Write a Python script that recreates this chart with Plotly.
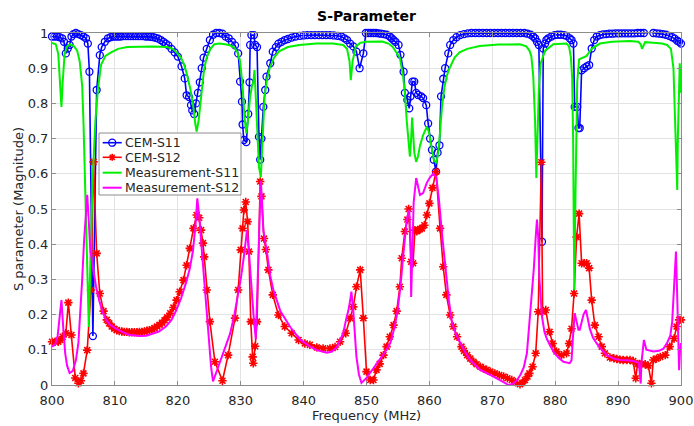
import plotly.graph_objects as go

# ---------------- data ----------------
cem_s11_freq = [800.0, 800.4, 800.8, 801.2, 801.6, 801.9, 802.2, 802.5, 802.8, 803.1, 803.4, 803.8,
                804.2, 804.6, 805.0, 805.4, 805.7, 805.95, 806.5, 807.1, 807.6, 807.9, 808.4, 808.9,
                809.3, 809.7, 810.1, 810.5, 810.9, 811.3, 811.7, 812.1, 812.5, 812.9, 813.3, 813.7,
                814.1, 814.5, 814.9, 815.3, 815.7, 816.1, 816.5, 816.9, 817.3, 817.7, 818.1, 818.5,
                819.0, 819.5, 820.0, 820.6, 821.1, 821.4, 821.8, 822.1, 822.3, 822.6, 822.9, 823.2,
                823.5, 823.8, 824.1, 824.6, 825.1, 825.6, 826.1, 826.6, 827.1, 827.6, 828.1, 828.6,
                829.1, 829.6, 829.9, 830.2, 830.3, 830.5, 830.9, 831.2, 831.4, 831.5, 831.7, 832.1,
                832.3, 832.6, 832.9, 833.1, 833.3, 833.6, 833.9, 834.1, 834.7, 835.1, 835.6, 836.0,
                836.5, 837.0, 837.5, 838.1, 838.7, 839.4, 840.0, 840.6, 841.2, 841.8, 842.4, 843.0,
                843.6, 844.2, 844.8, 845.4, 846.0, 846.5, 846.9, 847.4, 847.9, 848.4, 848.9, 849.5,
                849.9, 850.3, 850.7, 851.1, 851.5, 851.9, 852.3, 852.7, 853.2, 853.7, 854.0, 854.3,
                854.6, 855.1, 855.4, 855.9, 856.1, 856.5, 856.8, 857.0, 857.3, 857.6, 857.9, 858.2,
                858.7, 859.0, 859.5, 859.8, 860.1, 860.4, 860.7, 861.05, 861.3, 861.6, 861.85, 862.2,
                862.5, 863.0, 863.3, 863.8, 864.3, 864.9, 865.5, 866.1, 866.7, 867.3, 867.9, 868.5,
                869.1, 869.7, 870.3, 870.9, 871.5, 872.1, 872.7, 873.3, 873.9, 874.5, 875.1, 875.6,
                876.1, 876.5, 876.8, 877.1, 877.4, 877.9, 878.1, 878.4, 878.6, 878.9, 879.4, 879.9,
                880.4, 880.9, 881.4, 881.8, 882.3, 882.6, 882.9, 883.1, 883.5, 883.7, 883.9, 884.2,
                884.6, 885.0, 885.4, 885.8, 886.2, 886.6, 887.1, 887.6, 888.1, 888.6, 889.1, 889.6,
                890.1, 890.6, 891.1, 891.6, 892.1, 892.6, 893.1, 893.6, 894.1, 894.6, 895.1, 895.6,
                896.1, 896.6, 897.1, 897.6, 898.1, 898.6, 899.0, 899.4, 899.7, 900.0]
cem_s11 = [0.99, 0.99, 0.99, 0.988, 0.985, 0.975, 0.942, 0.956, 0.966, 0.99, 0.997, 1.0,
           0.997, 0.994, 0.99, 0.985, 0.97, 0.89, 0.139, 0.838, 0.937, 0.96, 0.975, 0.985,
           0.988, 0.99, 0.99, 0.99, 0.99, 0.991, 0.991, 0.991, 0.991, 0.991, 0.991, 0.991,
           0.991, 0.991, 0.99, 0.99, 0.989, 0.988, 0.986, 0.984, 0.98, 0.975, 0.97, 0.965,
           0.955, 0.945, 0.933, 0.905, 0.871, 0.823, 0.818, 0.795, 0.78, 0.77, 0.8, 0.83,
           0.86, 0.9, 0.93, 0.955, 0.98, 0.995, 1.0, 1.0, 0.998, 0.99, 0.985, 0.975,
           0.965, 0.942, 0.862, 0.805, 0.74, 0.696, 0.69, 0.77, 0.86, 0.966, 0.994, 0.994,
           0.966, 0.96, 0.705, 0.64, 0.7, 0.79, 0.838, 0.876, 0.914, 0.947, 0.96, 0.97,
           0.975, 0.98, 0.983, 0.987, 0.99, 0.992, 0.993, 0.994, 0.994, 0.994, 0.994, 0.994,
           0.994, 0.994, 0.993, 0.992, 0.99, 0.985, 0.98, 0.97, 0.962, 0.947, 0.9, 0.942,
           1.0, 1.0, 1.0, 1.0, 1.0, 0.999, 0.998, 0.997, 0.995, 0.99, 0.985, 0.98,
           0.975, 0.966, 0.938, 0.89, 0.83, 0.81, 0.786, 0.82, 0.862, 0.862, 0.83, 0.824,
           0.82, 0.815, 0.795, 0.743, 0.7, 0.668, 0.64, 0.606, 0.66, 0.681, 0.82, 0.87,
           0.9, 0.942, 0.966, 0.98, 0.988, 0.994, 0.997, 0.999, 1.0, 1.0, 1.0, 1.0,
           1.0, 1.0, 1.0, 1.0, 1.0, 1.0, 1.0, 1.0, 1.0, 1.0, 1.0, 0.998,
           0.995, 0.99, 0.985, 0.975, 0.966, 0.407, 0.956, 0.97, 0.98, 0.985, 0.99, 0.994,
           0.995, 0.995, 0.994, 0.992, 0.985, 0.98, 0.97, 0.79, 0.79, 0.73, 0.73, 0.894,
           0.9, 0.905, 0.909, 0.956, 0.98, 0.99, 0.994, 0.996, 0.997, 0.998, 0.998, 0.999,
           0.999, 0.999, 0.999, 0.999, 0.999, 0.999, 1.0, 1.0, 1.0, 1.001, 1.003, 1.0,
           0.999, 0.998, 0.997, 0.995, 0.992, 0.988, 0.984, 0.978, 0.975, 0.97]

cem_s12_freq = [800.0, 800.5, 801.0, 801.3, 801.7, 802.2, 802.6, 803.1, 803.7, 804.2, 804.6, 805.0,
                805.6, 806.2, 806.6, 807.1, 807.6, 808.2, 808.7, 809.1, 809.5, 809.9, 810.3, 810.7,
                811.1, 811.5, 811.9, 812.3, 812.7, 813.1, 813.5, 813.9, 814.3, 814.7, 815.1, 815.5,
                815.9, 816.3, 816.7, 817.1, 817.5, 817.9, 818.3, 818.8, 819.3, 819.8, 820.3, 820.9,
                821.4, 821.9, 822.5, 823.0, 823.4, 823.7, 824.0, 824.2, 824.6, 825.1, 825.9, 827.1,
                828.0, 829.1, 829.6, 830.0, 830.3, 830.5, 830.8, 831.1, 831.3, 831.6, 831.9, 832.0,
                832.3, 832.6, 833.1, 833.3, 833.7, 834.0, 834.4, 835.1, 836.0, 837.0, 838.1, 839.2,
                840.2, 841.0, 842.1, 843.1, 844.2, 845.0, 845.8, 846.7, 847.4, 847.9, 848.4, 849.0,
                849.5, 850.0, 850.6, 851.1, 851.6, 852.1, 852.7, 853.2, 853.7, 854.3, 854.8, 855.3,
                855.6, 856.1, 856.5, 856.7, 857.1, 857.4, 857.7, 858.0, 858.2, 858.5, 858.8, 859.2,
                859.6, 860.0, 860.5, 861.05, 861.7, 862.2, 862.7, 863.3, 863.8, 864.4, 865.1, 865.5,
                866.0, 866.5, 867.0, 867.5, 868.1, 868.6, 869.1, 869.7, 870.4, 871.1, 871.8, 872.4,
                873.1, 873.7, 874.4, 874.8, 875.2, 875.6, 875.9, 876.4, 876.9, 877.3, 877.8, 878.0,
                878.5, 879.1, 879.6, 880.2, 881.0, 881.8, 882.2, 882.6, 883.0, 883.4, 883.8, 884.2,
                884.6, 885.0, 885.4, 885.8, 886.3, 886.9, 887.4, 887.9, 888.7, 889.3, 889.8, 890.3,
                890.8, 891.4, 891.9, 892.4, 892.8, 893.1, 893.4, 893.7, 894.3, 894.8, 895.3, 895.6,
                896.1, 896.7, 897.5, 898.2, 898.9, 899.3, 899.7, 900.0]
cem_s12 = [0.123, 0.123, 0.123, 0.128, 0.137, 0.147, 0.234, 0.142, 0.02, 0.005, 0.012, 0.033,
           0.099, 0.27, 0.634, 0.374, 0.26, 0.21, 0.185, 0.175, 0.166, 0.16, 0.156, 0.153,
           0.152, 0.151, 0.151, 0.15, 0.15, 0.15, 0.15, 0.151, 0.151, 0.152, 0.154, 0.156,
           0.158, 0.162, 0.166, 0.171, 0.177, 0.184, 0.192, 0.204, 0.22, 0.241, 0.265, 0.298,
           0.34, 0.388, 0.445, 0.483, 0.475, 0.44, 0.403, 0.364, 0.27, 0.18, 0.066, 0.012,
           0.085, 0.19, 0.27, 0.384, 0.445, 0.497, 0.52, 0.464, 0.379, 0.18, 0.08, 0.062,
           0.11, 0.18, 0.578, 0.536, 0.416, 0.385, 0.327, 0.256, 0.199, 0.166, 0.147, 0.128,
           0.118, 0.114, 0.107, 0.104, 0.104, 0.108, 0.123, 0.147, 0.19, 0.222, 0.279, 0.327,
           0.19, 0.038, 0.014, 0.014, 0.043, 0.06, 0.085, 0.109, 0.137, 0.17, 0.21, 0.279,
           0.36, 0.436, 0.47, 0.5, 0.35, 0.346, 0.44, 0.437, 0.44, 0.443, 0.445, 0.454,
           0.483, 0.516, 0.56, 0.606, 0.445, 0.336, 0.256, 0.199, 0.166, 0.137, 0.109, 0.097,
           0.085, 0.075, 0.066, 0.059, 0.052, 0.047, 0.043, 0.038, 0.033, 0.028, 0.024, 0.019,
           0.014, 0.008, 0.002, 0.006, 0.014, 0.024, 0.033, 0.052, 0.09, 0.208, 0.633, 0.208,
           0.213, 0.151, 0.118, 0.095, 0.085, 0.09, 0.118, 0.16, 0.26, 0.42, 0.487, 0.346,
           0.346, 0.346, 0.332, 0.241, 0.17, 0.137, 0.109, 0.09, 0.078, 0.076, 0.074, 0.072,
           0.071, 0.071, 0.071, 0.068, 0.019, 0.06, 0.06, 0.059, 0.059, 0.055, 0.005, 0.071,
           0.075, 0.08, 0.085, 0.109, 0.132, 0.166, 0.185, 0.185]

meas_s11_freq = [800.0, 800.6, 801.0, 801.3, 801.5, 801.7, 802.0, 802.4, 802.9, 803.5, 804.0, 804.4,
                 804.8, 805.0, 805.3, 805.6, 805.85, 806.1, 806.5, 806.9, 807.3, 807.8, 808.5, 809.4,
                 810.5, 812.0, 814.0, 816.0, 818.3, 819.2, 819.8, 820.5, 821.0, 821.4, 822.0, 822.4,
                 822.8, 823.0, 823.3, 823.7, 824.2, 824.6, 825.2, 825.8, 826.6, 827.5, 828.3, 829.0,
                 829.5, 829.9, 830.3, 830.6, 830.9, 831.2, 831.5, 831.8, 832.0, 832.2, 832.4, 832.6,
                 832.9, 833.2, 833.5, 833.8, 834.2, 834.6, 835.3, 836.1, 837.5, 839.3, 842.0, 844.6,
                 846.3, 846.9, 847.3, 847.5, 847.8, 848.3, 849.0, 849.9, 852.5, 853.5, 854.2, 854.8,
                 855.3, 855.8, 856.1, 856.4, 856.7, 856.9, 857.1, 857.25, 857.4, 857.6, 857.9, 858.2,
                 858.5, 859.0, 859.6, 859.9, 860.3, 860.7, 861.1, 861.4, 861.7, 862.0, 862.4, 862.8,
                 863.2, 864.0, 864.8, 866.0, 868.0, 871.0, 874.4, 875.4, 875.9, 876.2, 876.5, 876.8,
                 877.0, 877.2, 877.4, 877.7, 878.4, 879.7, 881.8, 882.2, 882.5, 882.7, 882.85, 882.95,
                 883.05, 883.15, 883.3, 883.5, 883.8, 884.4, 885.0, 885.8, 887.1, 889.0, 891.9, 893.2,
                 893.6, 893.8, 894.0, 894.3, 895.6, 897.0, 897.8, 898.4, 898.8, 899.1, 899.3, 899.4,
                 899.5, 899.65, 899.8, 900.0]
meas_s11 = [0.972, 0.968, 0.94, 0.86, 0.79, 0.86, 0.94, 0.962, 0.968, 0.962, 0.95, 0.92,
            0.85, 0.75, 0.55, 0.3, 0.165, 0.35, 0.6, 0.75, 0.84, 0.91, 0.935, 0.945,
            0.955, 0.96, 0.962, 0.962, 0.96, 0.955, 0.945, 0.93, 0.91, 0.886, 0.84, 0.8,
            0.74, 0.72, 0.75, 0.82, 0.9, 0.93, 0.955, 0.968, 0.97, 0.968, 0.965, 0.958,
            0.945, 0.92, 0.85, 0.76, 0.715, 0.76, 0.82, 0.85, 0.86, 0.895, 0.82, 0.72,
            0.62, 0.59, 0.72, 0.82, 0.87, 0.9, 0.93, 0.948, 0.96, 0.966, 0.97, 0.97,
            0.966, 0.955, 0.92, 0.866, 0.92, 0.962, 0.972, 0.975, 0.976, 0.97, 0.96, 0.945,
            0.93, 0.88, 0.83, 0.75, 0.68, 0.649, 0.7, 0.76, 0.72, 0.66, 0.634, 0.65,
            0.68, 0.71, 0.734, 0.72, 0.68, 0.64, 0.63, 0.66, 0.72, 0.79, 0.847, 0.88,
            0.9, 0.93, 0.945, 0.955, 0.963, 0.967, 0.968, 0.962, 0.95, 0.935, 0.88, 0.75,
            0.588, 0.7, 0.84, 0.914, 0.95, 0.968, 0.97, 0.962, 0.93, 0.87, 0.7, 0.45,
            0.27, 0.45, 0.7, 0.86, 0.925, 0.93, 0.935, 0.955, 0.97, 0.975, 0.977, 0.975,
            0.968, 0.955, 0.965, 0.974, 0.972, 0.97, 0.966, 0.955, 0.9, 0.75, 0.6, 0.554,
            0.7, 0.85, 0.914, 0.83]

meas_s12_freq = [800.0, 800.5, 800.9, 801.2, 801.5, 801.8, 802.1, 802.4, 802.8, 803.3, 803.8, 804.2,
                 804.5, 804.8, 805.1, 805.4, 805.6, 805.8, 806.1, 806.5, 807.0, 807.5, 808.0, 808.6,
                 809.3, 810.2, 811.2, 812.3, 813.9, 815.0, 816.0, 817.0, 818.1, 819.0, 819.7, 820.5,
                 821.3, 821.9, 822.4, 822.8, 823.1, 823.4, 823.7, 824.2, 824.6, 825.0, 825.3, 825.6,
                 826.0, 826.7, 827.5, 828.3, 829.0, 829.4, 830.0, 830.5, 830.8, 831.0, 831.3, 831.6,
                 832.1, 832.4, 832.7, 833.0, 833.2, 833.4, 833.6, 834.2, 834.7, 835.2, 836.3, 837.9,
                 839.5, 841.0, 842.1, 843.7, 844.5, 845.3, 846.3, 846.8, 847.1, 847.4, 847.6, 847.9,
                 848.4, 848.8, 849.2, 850.0, 851.0, 852.2, 853.0, 853.8, 854.4, 854.9, 855.4, 855.8,
                 856.1, 856.4, 856.8, 857.0, 857.1, 857.3, 857.5, 857.9, 858.2, 858.5, 859.0, 859.6,
                 860.1, 860.6, 861.1, 861.5, 862.0, 862.5, 863.1, 863.6, 864.2, 864.9, 865.7, 866.5,
                 868.1, 870.2, 871.5, 872.6, 873.3, 873.9, 874.5, 875.0, 875.5, 876.0, 876.3, 876.6,
                 876.9, 877.1, 877.3, 877.5, 877.9, 878.3, 878.7, 879.7, 880.5, 881.3, 882.3, 882.6,
                 882.8, 883.0, 883.1, 883.4, 883.7, 883.9, 884.2, 884.5, 884.9, 885.2, 885.5, 886.0,
                 886.6, 887.4, 888.2, 889.3, 890.3, 891.5, 892.4, 893.3, 893.5, 893.6, 893.7, 894.1,
                 894.5, 895.0, 895.6, 896.5, 897.2, 897.8, 898.3, 898.6, 898.9, 899.2, 899.4, 899.6,
                 899.7, 899.85, 900.0]
meas_s12 = [0.109, 0.115, 0.14, 0.19, 0.241, 0.16, 0.09, 0.055, 0.034, 0.04, 0.07, 0.12,
            0.2, 0.3, 0.41, 0.5, 0.54, 0.48, 0.38, 0.336, 0.28, 0.24, 0.21, 0.185,
            0.17, 0.16, 0.15, 0.143, 0.139, 0.14, 0.145, 0.152, 0.166, 0.185, 0.21, 0.245,
            0.29, 0.33, 0.38, 0.45, 0.53, 0.48, 0.41, 0.3, 0.2, 0.12, 0.05, 0.01,
            0.03, 0.062, 0.1, 0.145, 0.2, 0.24, 0.3, 0.364, 0.42, 0.44, 0.38, 0.3,
            0.185, 0.13, 0.3, 0.478, 0.58, 0.52, 0.44, 0.374, 0.31, 0.27, 0.21, 0.164,
            0.128, 0.11, 0.099, 0.092, 0.095, 0.108, 0.147, 0.19, 0.21, 0.24, 0.265, 0.21,
            0.08, 0.03, 0.006, 0.02, 0.045, 0.073, 0.095, 0.12, 0.16, 0.205, 0.28, 0.36,
            0.42, 0.47, 0.497, 0.4, 0.25, 0.42, 0.52, 0.588, 0.565, 0.54, 0.545, 0.575,
            0.59, 0.6, 0.59, 0.53, 0.43, 0.336, 0.24, 0.176, 0.145, 0.12, 0.093, 0.071,
            0.043, 0.024, 0.012, 0.0, 0.004, 0.013, 0.03, 0.05, 0.09, 0.19, 0.26, 0.33,
            0.42, 0.47, 0.42, 0.3, 0.194, 0.15, 0.13, 0.095, 0.078, 0.066, 0.062, 0.07,
            0.13, 0.19, 0.204, 0.18, 0.157, 0.157, 0.18, 0.2, 0.213, 0.19, 0.16, 0.135,
            0.118, 0.1, 0.085, 0.075, 0.071, 0.07, 0.068, 0.063, 0.02, 0.004, 0.06, 0.128,
            0.1, 0.097, 0.095, 0.097, 0.103, 0.12, 0.14, 0.18, 0.27, 0.379, 0.25, 0.08,
            0.042, 0.1, 0.119]

x_ticks = [800, 810, 820, 830, 840, 850, 860, 870, 880, 890, 900]
y_ticks = [0, 0.1, 0.2, 0.3, 0.4, 0.5, 0.6, 0.7, 0.8, 0.9, 1]
y_tick_labels = ["0", "0.1", "0.2", "0.3", "0.4", "0.5", "0.6", "0.7", "0.8", "0.9", "1"]

series_names = ["CEM-S11", "CEM-S12", "Measurement-S11", "Measurement-S12"]
series_colors = ["#0000ff", "#ff0000", "#00f000", "#ff00ff"]

# ---------------- figure ----------------
FONT = "DejaVu Sans"
TXT = "#262626"
fig = go.Figure()

fig.add_trace(go.Scatter(
    x=cem_s11_freq, y=cem_s11, name=series_names[0], mode="lines+markers",
    line=dict(color=series_colors[0], width=1.6),
    marker=dict(symbol="circle-open", size=7, color=series_colors[0], line=dict(width=1.3)),
    cliponaxis=False))
fig.add_trace(go.Scatter(
    x=cem_s12_freq, y=cem_s12, name=series_names[1], mode="lines+markers",
    line=dict(color=series_colors[1], width=1.6),
    marker=dict(symbol="asterisk-open", size=7, color=series_colors[1],
                line=dict(width=1.6, color=series_colors[1])),
    cliponaxis=False))
fig.add_trace(go.Scatter(
    x=meas_s11_freq, y=meas_s11, name=series_names[2], mode="lines",
    line=dict(color=series_colors[2], width=2)))
fig.add_trace(go.Scatter(
    x=meas_s12_freq, y=meas_s12, name=series_names[3], mode="lines",
    line=dict(color=series_colors[3], width=2)))

axis_common = dict(
    showgrid=True, gridcolor="#e3e3e3", gridwidth=1,
    showline=True, linecolor="#8c8c8c", linewidth=1, mirror="ticks",
    ticks="inside", ticklen=4, tickcolor="#8c8c8c",
    zeroline=False, automargin=False,
    tickfont=dict(family=FONT, size=13, color=TXT),
)

fig.update_xaxes(range=[800, 900], tickvals=x_ticks, ticklabelstandoff=3,
                 title=dict(text="Frequency (MHz)", font=dict(family=FONT, size=13, color=TXT),
                            standoff=1),
                 **axis_common)
fig.update_yaxes(range=[0, 1], tickvals=y_ticks, ticktext=y_tick_labels,
                 title=dict(text="S parameter (Magnitude)", font=dict(family=FONT, size=13, color=TXT),
                            standoff=1),
                 **axis_common)

# ---- legend box (drawn as a MATLAB-style compact legend) ----
PW, PH = 629.0, 352.0          # plot area size in px
def px_x(p):                   # pixel offset from plot left -> paper x
    return p / PW
def px_y(p):                   # pixel offset from plot bottom -> paper y
    return p / PH

box_x0, box_x1 = px_x(47), px_x(189)
box_y1, box_y0 = px_y(252), px_y(190)
row_y = [px_y(242.3), px_y(227.7), px_y(212.3), px_y(197.3)]
ln_x0, ln_x1 = px_x(50.7), px_x(69.7)
mk_x = (ln_x0 + ln_x1) / 2
txt_x = px_x(71)

shapes = [dict(type="rect", xref="paper", yref="paper", x0=box_x0, x1=box_x1, y0=box_y0, y1=box_y1,
               line=dict(color="#8c8c8c", width=1), fillcolor="white", layer="above")]
annotations = []
for i, (nm, col) in enumerate(zip(series_names, series_colors)):
    yy = row_y[i]
    shapes.append(dict(type="line", xref="paper", yref="paper", x0=ln_x0, x1=ln_x1, y0=yy, y1=yy,
                       line=dict(color=col, width=1.6 if i < 2 else 2), layer="above"))
    annotations.append(dict(x=txt_x, y=yy, xref="paper", yref="paper", text=nm, showarrow=False,
                            xanchor="left", yanchor="middle",
                            font=dict(family=FONT, size=12.5, color=TXT)))
# legend marker glyphs
rx, ry = px_x(3.5), px_y(3.5)
shapes.append(dict(type="circle", xref="paper", yref="paper",
                   x0=mk_x - rx, x1=mk_x + rx, y0=row_y[0] - ry, y1=row_y[0] + ry,
                   line=dict(color=series_colors[0], width=1.3), fillcolor="rgba(0,0,0,0)", layer="above"))
dx2, dy2 = rx * 0.72, ry * 0.72
cy = row_y[1]
star_path = (f"M{mk_x - rx},{cy} L{mk_x + rx},{cy} "
             f"M{mk_x},{cy - ry} L{mk_x},{cy + ry} "
             f"M{mk_x - dx2},{cy - dy2} L{mk_x + dx2},{cy + dy2} "
             f"M{mk_x - dx2},{cy + dy2} L{mk_x + dx2},{cy - dy2}")
shapes.append(dict(type="path", xref="paper", yref="paper", path=star_path,
                   line=dict(color=series_colors[1], width=1.6), layer="above"))

fig.update_layout(
    width=694, height=426,
    margin=dict(l=52, r=13, t=33, b=41),
    paper_bgcolor="white", plot_bgcolor="white",
    title=dict(text="<b>S-Parameter</b>", x=0.528, xanchor="center", y=0.962, yanchor="middle",
               font=dict(family=FONT, size=14, color="black"), automargin=False),
    showlegend=False,
    shapes=shapes,
    annotations=annotations,
)

# remove the browser's default page margin so the 694x426 figure fills the window exactly
fig.write_html("out.html",
               config={"displayModeBar": False},
               post_script="document.body.style.margin='0';document.body.style.overflow='hidden';")
